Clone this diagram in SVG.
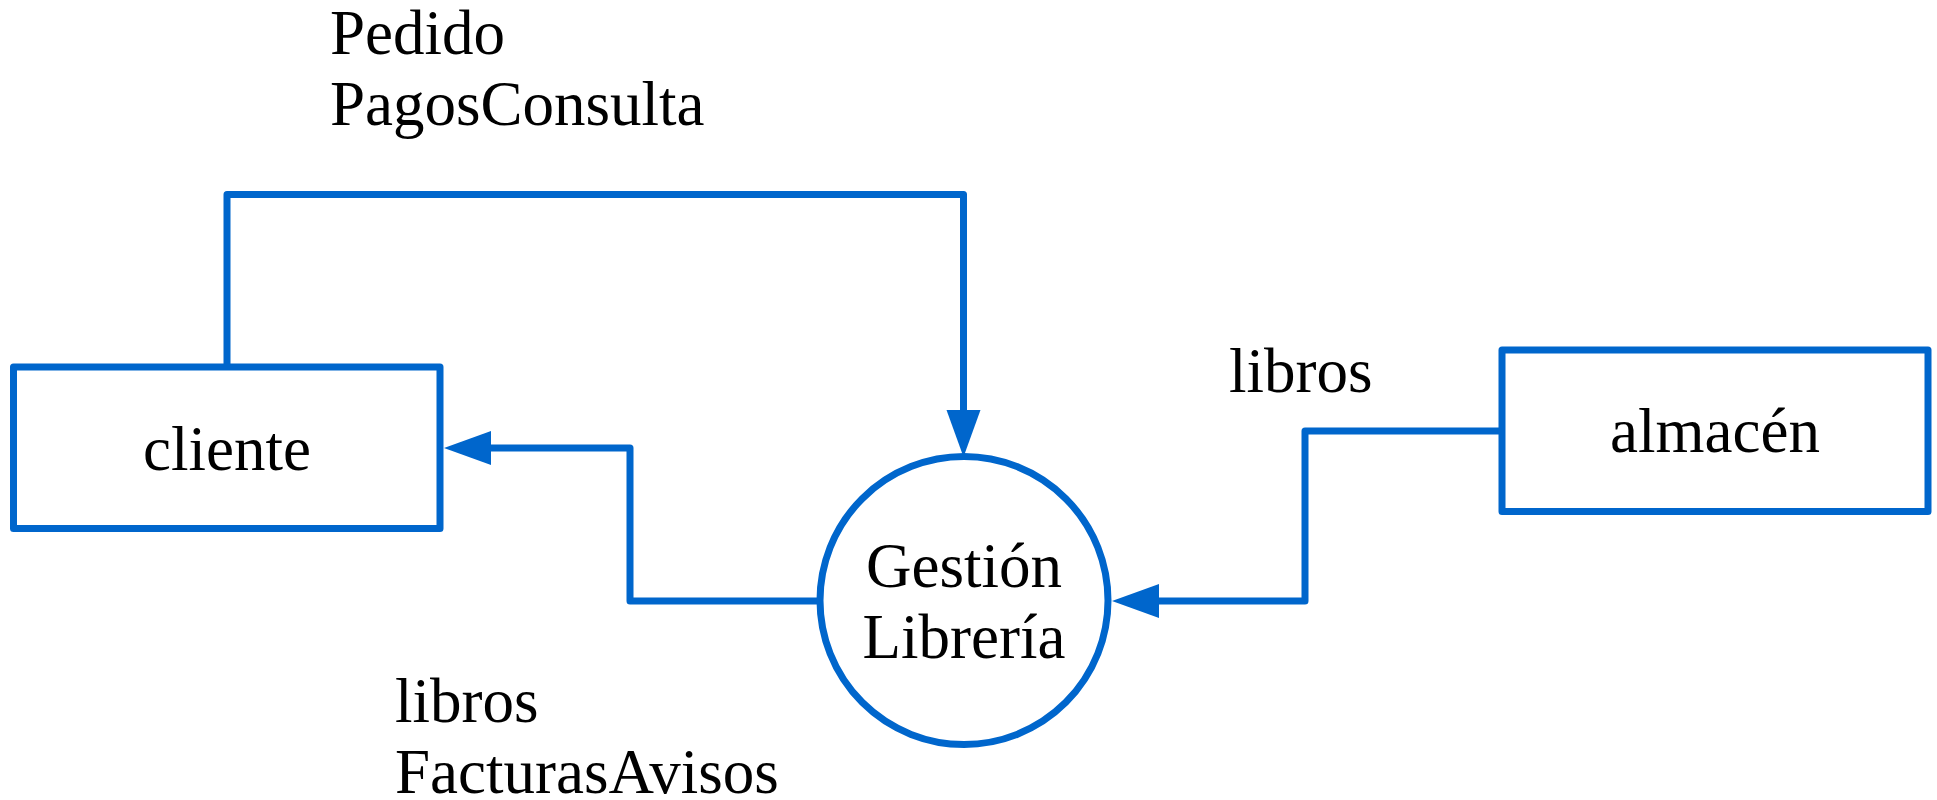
<svg xmlns="http://www.w3.org/2000/svg" width="1937" height="800" viewBox="0 0 1937 800">
<style>
.shape{fill:#fff;stroke:#0066CC;stroke-width:7;stroke-linejoin:round}
.conn{fill:none;stroke:#0066CC;stroke-width:7;stroke-linejoin:round}
text{font-family:"Liberation Serif","Times New Roman",serif;font-size:63px;fill:#000}
.c{text-anchor:middle}
</style>
<defs>
<marker id="arrow" markerUnits="userSpaceOnUse" markerWidth="50" markerHeight="36" refX="0" refY="17" orient="auto" overflow="visible">
<path d="M0,0 L47,17 L0,34 Z" fill="#0066CC"/>
</marker>
</defs>
<rect width="1937" height="800" fill="#fff"/>
<g id="connectors">
<path class="conn" d="M227,367 V194.5 H963.5 V410" marker-end="url(#arrow)"/>
<path class="conn" d="M819.5,601 H630 V448 H491" marker-end="url(#arrow)"/>
<path class="conn" d="M1502,431 H1305 V601 H1159" marker-end="url(#arrow)"/>
</g>
<g id="cliente">
<rect class="shape" x="13.5" y="367" width="426.5" height="161.5"/>
<text class="c" x="227" y="470">cliente</text>
</g>
<g id="almacen">
<rect class="shape" x="1502" y="350" width="426" height="161.5"/>
<text class="c" x="1715" y="452">almacén</text>
</g>
<g id="gestion">
<circle class="shape" cx="964" cy="600.5" r="144"/>
<text class="c" x="964" y="587">Gestión</text>
<text class="c" x="964" y="658">Librería</text>
</g>
<g id="labels">
<text x="330" y="54">Pedido</text>
<text x="330" y="125">PagosConsulta</text>
<text x="1229" y="392">libros</text>
<text x="395" y="722">libros</text>
<text x="395" y="793">FacturasAvisos</text>
</g>
</svg>
